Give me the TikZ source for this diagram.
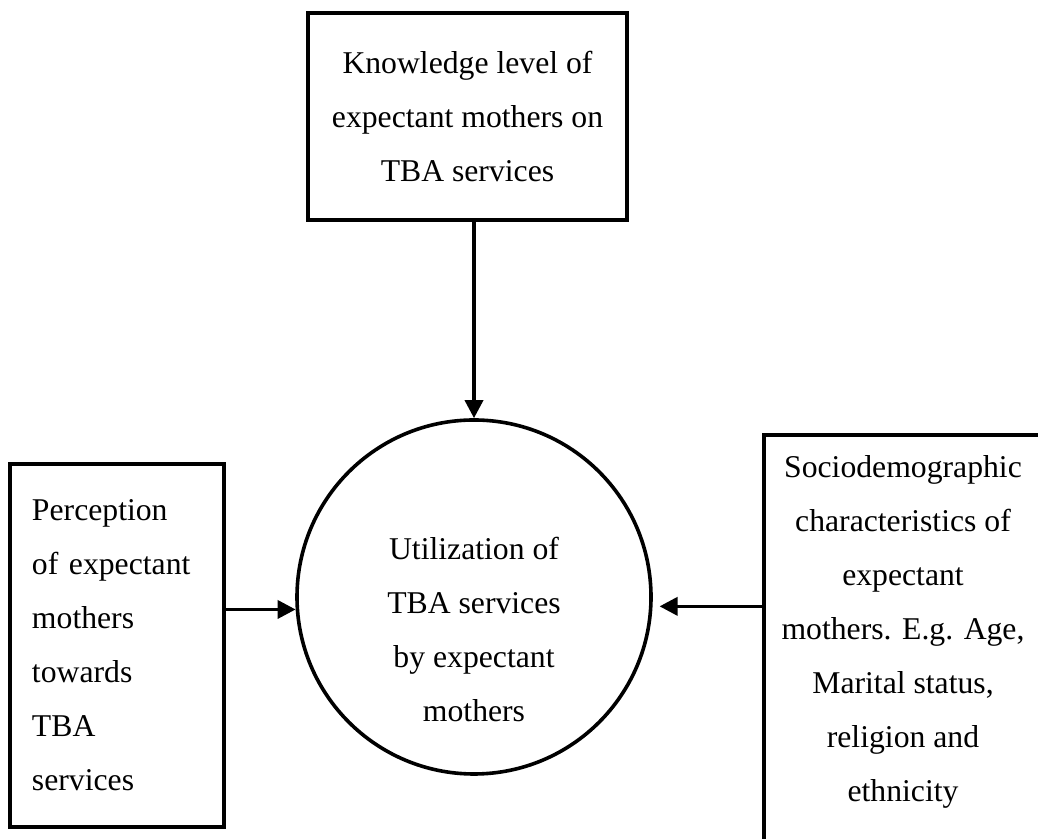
\documentclass[tikz,border=0pt]{standalone}
\usepackage{fontspec}
\setmainfont{Liberation Serif}
\usetikzlibrary{arrows.meta}

\begin{document}
\begin{tikzpicture}[x=0.5pt,y=0.5pt,
        every node/.style={font=\fontsize{15.85}{27}\selectfont},
        caja/.style={draw,line width=1.8pt,rectangle,inner sep=0pt},
        texto/.style={align=center,inner sep=0pt},
        flecha/.style={line width=1.8pt,-{Triangle[length=9pt,width=9pt]}}]
        % Marco
        \clip (0,0) rectangle (1038,839);

        % Cajas
        \node[caja,minimum width=159.5pt,minimum height=103.5pt,align=center] (know) at (467.5,722.5)
            {Knowledge level of\\expectant mothers on\\TBA services};
        \node[caja,minimum width=107pt,minimum height=181.5pt,text width=85pt,align=left] (perc) at (117,193.5)
            {Perception\\of expectant\\mothers\\towards\\TBA\\services};
        \node[caja,anchor=north west,minimum width=142pt,minimum height=225pt] (sociobox) at (762,406) {};
        \node[texto] (socio) at (903,207)
            {Sociodemographic\\characteristics of\\expectant\\mothers. E.g. Age,\\Marital status,\\religion and\\ethnicity};

        % Circulo
        \node[draw,circle,line width=1.8pt,minimum size=177pt,inner sep=0pt] (util) at (474,242) {};
        \node[texto] (utiltext) at (474,209) {Utilization of\\TBA services\\by expectant\\mothers};

        % Flechas
        \draw[flecha] (know.south -| util.north) -- (util.north);
        \draw[flecha] (perc.east |- util.184) -- (util.184);
        \draw[flecha,shorten >=3.5pt] (sociobox.west |- util.-3.5) -- (util.-3.5);
    \end{tikzpicture}
\end{document}
